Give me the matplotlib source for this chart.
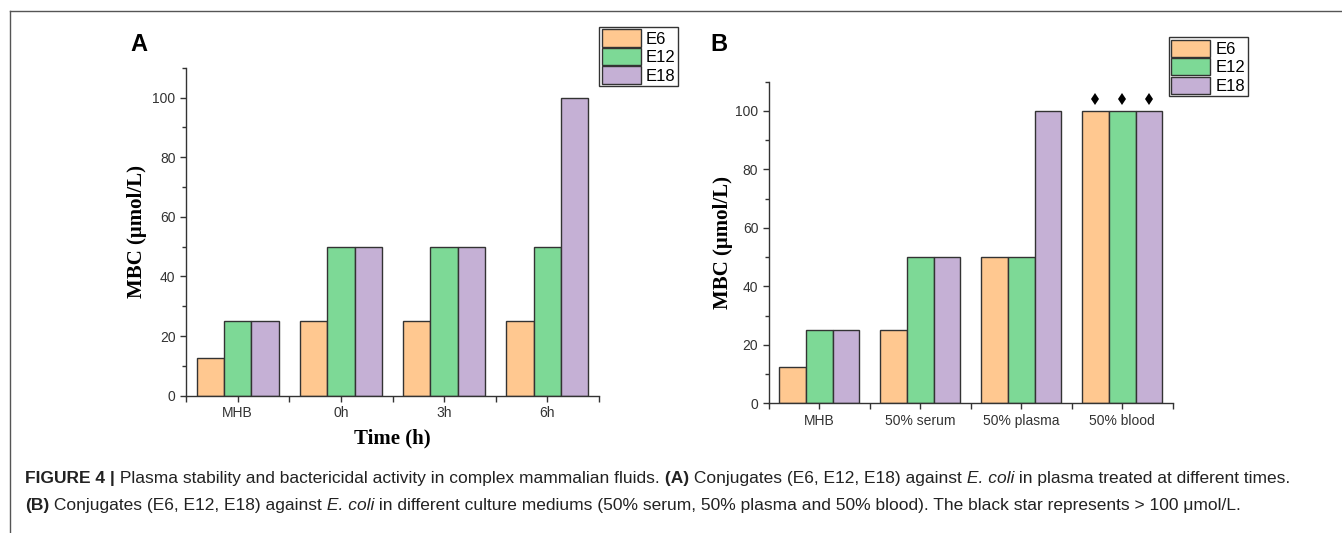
import numpy as np
import matplotlib
matplotlib.use("Agg")
import matplotlib.pyplot as plt
from matplotlib.lines import Line2D

# %% Data
series = ["E6", "E12", "E18"]
colors = ["#FFC890", "#7DD996", "#C5B0D5"]

cats_A = ["MHB", "0h", "3h", "6h"]
vals_A = {"E6": [12.5, 25, 25, 25],
          "E12": [25, 50, 50, 50],
          "E18": [25, 50, 50, 100]}

cats_B = ["MHB", "50% serum", "50% plasma", "50% blood"]
vals_B = {"E6": [12.5, 25, 50, 100],
          "E12": [25, 50, 50, 100],
          "E18": [25, 50, 100, 100]}
star_cat = "50% blood"   # > 100 umol/L
star_y = 104

W, H = 1342, 533
fig = plt.figure(figsize=(W / 100, H / 100), dpi=100)
plt.rcParams['font.family'] = ['Liberation Sans', 'DejaVu Sans']

EDGE = "#333333"
TICK_FS = 10


def px(x, y):
    return x / W, 1 - y / H


def DrawPanel(rect, cats, vals, letter, letter_xy, legend_xy, ylab_x, xlabel=None, stars=False):
    ax = fig.add_axes(rect)
    x = np.arange(len(cats))
    bw = 0.265
    for i, s in enumerate(series):
        ax.bar(x + (i - 1) * bw, vals[s], width=bw, color=colors[i], edgecolor=EDGE,
               linewidth=1, label=s, zorder=2)
    if stars:
        j = cats.index(star_cat)
        for i in range(len(series)):
            ax.plot(j + (i - 1) * bw, star_y, marker='d', color='black', markersize=6,
                    markeredgewidth=0, linestyle='none', zorder=3)

    ax.set_xlim(-0.5, len(cats) - 0.5)
    ax.set_ylim(0, 110)
    ax.set_xticks(x)
    ax.set_xticklabels(cats)
    ax.set_xticks(np.arange(-0.5, len(cats), 1.0), minor=True)
    ax.set_yticks(np.arange(0, 101, 20))
    ax.set_yticks(np.arange(10, 111, 20), minor=True)
    for sp in ['top', 'right']:
        ax.spines[sp].set_visible(False)
    for sp in ['left', 'bottom']:
        ax.spines[sp].set_color(EDGE)
        ax.spines[sp].set_linewidth(1)
    ax.tick_params(which='major', length=4, width=1, color=EDGE, labelsize=TICK_FS,
                   labelcolor='#333333', direction='out')
    ax.tick_params(which='minor', length=3, width=1, color=EDGE, direction='out')
    ax.tick_params(axis='x', which='minor', length=4)

    ax.set_ylabel("MBC (μmol/L)", family='Liberation Serif', fontweight='bold', fontsize=15)
    ax.yaxis.set_label_coords(ylab_x, 0.5)
    if xlabel:
        ax.set_xlabel(xlabel, family='Liberation Serif', fontweight='bold', fontsize=15)
        ax.xaxis.set_label_coords(0.5, -0.1)

    fig.text(*px(*letter_xy), letter, fontsize=17, fontweight='bold', ha='center', va='center')

    leg = ax.legend(loc='upper left', bbox_to_anchor=px(*legend_xy), bbox_transform=fig.transFigure,
                    fontsize=12, handlelength=2.35, handleheight=1.2, labelspacing=0.08,
                    borderpad=0.15, handletextpad=0.3, borderaxespad=0, fancybox=False,
                    framealpha=1)
    leg.get_frame().set_edgecolor(EDGE)
    leg.get_frame().set_linewidth(1)
    return ax


axA = DrawPanel([186 / W, 1 - 395.7 / H, 413 / W, 328 / H], cats_A, vals_A, "A", (139, 45),
                (599, 27), -0.094, xlabel="Time (h)")
axB = DrawPanel([768.7 / W, 1 - 403.3 / H, 404 / W, 321.6 / H], cats_B, vals_B, "B", (719, 45),
                (1168.7, 37.3), -0.088, stars=True)

# page border (top and left)
fig.add_artist(Line2D([9.5 / W, 1], [1 - 10.5 / H, 1 - 10.5 / H], color="#555555", lw=1,
                      transform=fig.transFigure))
fig.add_artist(Line2D([9.5 / W, 9.5 / W], [0, 1 - 10.5 / H], color="#555555", lw=1,
                      transform=fig.transFigure))

# %% Caption with mixed styles
CAP_FS = 12.5
line1 = [("FIGURE 4 |", 'bold', 'normal'),
         (" Plasma stability and bactericidal activity in complex mammalian fluids.", 'normal', 'normal'),
         (" (A)", 'bold', 'normal'),
         (" Conjugates (E6, E12, E18) against", 'normal', 'normal'),
         (" E. coli", 'normal', 'italic'),
         (" in plasma treated at different times.", 'normal', 'normal')]
line2 = [("(B)", 'bold', 'normal'),
         (" Conjugates (E6, E12, E18) against", 'normal', 'normal'),
         (" E. coli", 'normal', 'italic'),
         (" in different culture mediums (50% serum, 50% plasma and 50% blood). "
          "The black star represents > 100 μmol/L.", 'normal', 'normal')]

renderer = fig.canvas.get_renderer()


def PutLine(y, pieces, x0=25):
    x = x0 / W
    for s, w, st in pieces:
        t = fig.text(x, 1 - y / H, s, fontsize=CAP_FS, fontweight=w, fontstyle=st,
                     va='baseline', ha='left', color='#222222')
        bb = t.get_window_extent(renderer=renderer)
        x = bb.x1 / fig.bbox.width


PutLine(483, line1)
PutLine(510, line2)

fig.savefig("out.png", dpi=100)
